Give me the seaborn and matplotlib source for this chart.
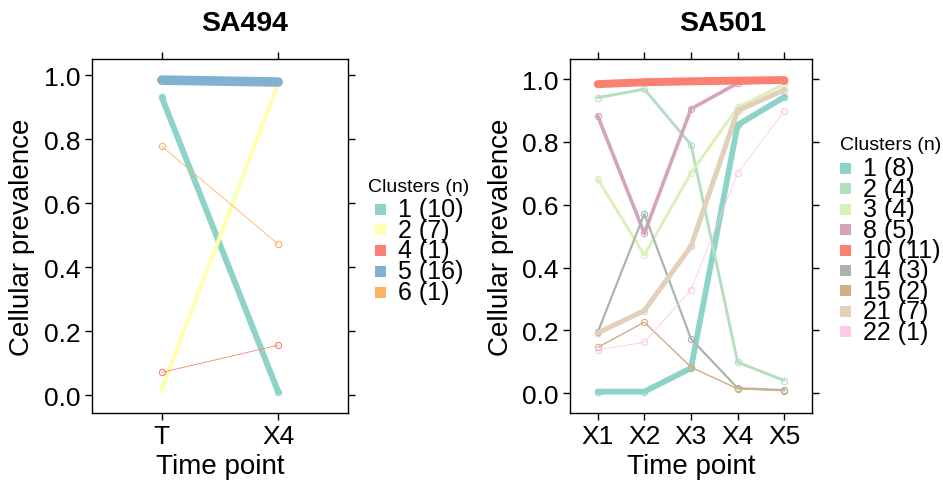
import numpy as np
import pandas as pd
import matplotlib
matplotlib.use("Agg")
import matplotlib.pyplot as plt
import seaborn as sns
from matplotlib.patches import Rectangle

# ---------------- data ----------------
sa494_times = ["T", "X4"]
sa494_clusters = ["1", "2", "4", "5", "6"]
sa494_counts = [10, 7, 1, 16, 1]
sa494_c1 = [0.931, 0.010]
sa494_c2 = [0.019, 0.973]
sa494_c4 = [0.071, 0.156]
sa494_c5 = [0.985, 0.979]
sa494_c6 = [0.778, 0.472]

sa501_times = ["X1", "X2", "X3", "X4", "X5"]
sa501_clusters = ["1", "2", "3", "8", "10", "14", "15", "21", "22"]
sa501_counts = [8, 4, 4, 5, 11, 3, 2, 7, 1]
sa501_c1 = [0.005, 0.005, 0.080, 0.854, 0.943]
sa501_c2 = [0.941, 0.968, 0.791, 0.099, 0.040]
sa501_c3 = [0.682, 0.440, 0.701, 0.910, 0.984]
sa501_c8 = [0.883, 0.509, 0.905, 0.987, 0.995]
sa501_c10 = [0.984, 0.990, 0.993, 0.995, 0.997]
sa501_c14 = [0.194, 0.571, 0.173, 0.016, 0.010]
sa501_c15 = [0.146, 0.226, 0.083, 0.014, 0.008]
sa501_c21 = [0.192, 0.263, 0.468, 0.899, 0.966]
sa501_c22 = [0.138, 0.162, 0.330, 0.701, 0.899]

sa494_colors = ["#8DD3C7", "#FFFFB3", "#FB8072", "#80B1D3", "#FDB462"]
sa501_colors = ["#8DD3C7", "#B2DFC0", "#D9F0B8", "#D4A5B9", "#FB8072",
                "#A9B4AE", "#D3B083", "#E2D0BA", "#FDC9E6"]

sa494_series = [sa494_c1, sa494_c2, sa494_c4, sa494_c5, sa494_c6]
sa501_series = [sa501_c1, sa501_c2, sa501_c3, sa501_c8, sa501_c10,
                sa501_c14, sa501_c15, sa501_c21, sa501_c22]


def long_df(times, clusters, series):
    rows = []
    for cl, vals in zip(clusters, series):
        for t, v in zip(times, vals):
            rows.append({"time": t, "cluster": cl, "prev": v})
    return pd.DataFrame(rows)


df494 = long_df(sa494_times, sa494_clusters, sa494_series)
df501 = long_df(sa501_times, sa501_clusters, sa501_series)

sns.set_theme(style="white")
plt.rcParams["font.family"] = ["Liberation Sans", "DejaVu Sans"]
plt.rcParams["text.color"] = "black"
plt.rcParams["axes.labelcolor"] = "black"
plt.rcParams["xtick.color"] = "black"
plt.rcParams["ytick.color"] = "black"
plt.rcParams["xtick.labelcolor"] = "black"
plt.rcParams["ytick.labelcolor"] = "black"

W, H = 943, 481
fig = plt.figure(figsize=(W / 100, H / 100), dpi=100)


def add_ax(x0, x1, y0, y1):
    return fig.add_axes([x0 / W, (H - y1) / H, (x1 - x0) / W, (y1 - y0) / H])


ax1 = add_ax(92, 348, 60, 414)
ax2 = add_ax(569.7, 812.3, 60, 414)


def draw(ax, df, times, clusters, counts, colors, k_pt, ylim):
    pal = dict(zip(clusters, colors))
    sizes = {c: max(0.6, k_pt * n) for c, n in zip(clusters, counts)}
    sns.lineplot(data=df, x="time", y="prev", hue="cluster", size="cluster",
                 hue_order=clusters, size_order=clusters,
                 palette=pal, sizes=sizes, marker="o", markersize=4.5,
                 markerfacecolor="none", sort=False, estimator=None,
                 legend=False, ax=ax)
    for ln in ax.lines:
        ln.set_markeredgecolor(ln.get_color())
        ln.set_markeredgewidth(0.8)
        ln.set_solid_capstyle("round")
        ln.set_solid_joinstyle("round")
    ax.set_xlim(-0.6, len(times) - 0.4)
    ax.set_ylim(*ylim)
    ax.set_yticks([0.0, 0.2, 0.4, 0.6, 0.8, 1.0])
    ax.set_yticklabels(["0.0", "0.2", "0.4", "0.6", "0.8", "1.0"])
    ax.tick_params(axis="both", which="both", direction="out", length=5,
                   width=1, color="black", labelcolor="black", labelsize=19,
                   pad=3, top=True, right=True, bottom=True, left=True,
                   labeltop=False, labelright=False)
    for sp in ax.spines.values():
        sp.set_visible(True)
        sp.set_color("black")
        sp.set_linewidth(1)
    ax.set_facecolor("white")
    ax.set_xlabel("Time point", fontsize=20, color="black")
    ax.set_ylabel("Cellular prevalence", fontsize=20, color="black")


draw(ax1, df494, sa494_times, sa494_clusters, sa494_counts, sa494_colors,
     0.43, (-0.056, 1.051))
draw(ax2, df501, sa501_times, sa501_clusters, sa501_counts, sa501_colors,
     0.52, (-0.063, 1.064))

# label positions
ax1.yaxis.set_label_coords((22.5 - 92) / 256, 0.5)
ax1.yaxis.label.set_va("center")
ax2.yaxis.set_label_coords((501 - 569.7) / 242.6, 0.5)
ax2.yaxis.label.set_va("center")
for ax in (ax1, ax2):
    ax.xaxis.set_label_coords(0.5, (414 - 467) / 354)
    ax.xaxis.label.set_va("center")

# titles
fig.text(245 / W, 1 - 24 / H, "SA494", ha="center", va="center",
         fontsize=20.5, fontweight="bold", color="black")
fig.text(723 / W, 1 - 24 / H, "SA501", ha="center", va="center",
         fontsize=20.5, fontweight="bold", color="black")


def legend(title_x, title_y, patch_x, text_x, y0, dy, clusters, counts, colors):
    fig.text(title_x / W, 1 - title_y / H, "Clusters (n)", ha="left",
             va="center", fontsize=14, color="black")
    for i, (c, n, col) in enumerate(zip(clusters, counts, colors)):
        y = y0 + i * dy
        fig.patches.append(Rectangle((patch_x / W, 1 - (y + 5.5) / H),
                                     11 / W, 11 / H, transform=fig.transFigure,
                                     facecolor=col, edgecolor="none"))
        fig.text(text_x / W, 1 - y / H, f"{c} ({n})", ha="left", va="center",
                 fontsize=18, color="black")


legend(368, 187, 375, 398, 210, 20.75, sa494_clusters, sa494_counts, sa494_colors)
legend(840, 146, 840, 863, 169.5, 20.4, sa501_clusters, sa501_counts, sa501_colors)

fig.savefig("out.png", dpi=100, facecolor="white")
